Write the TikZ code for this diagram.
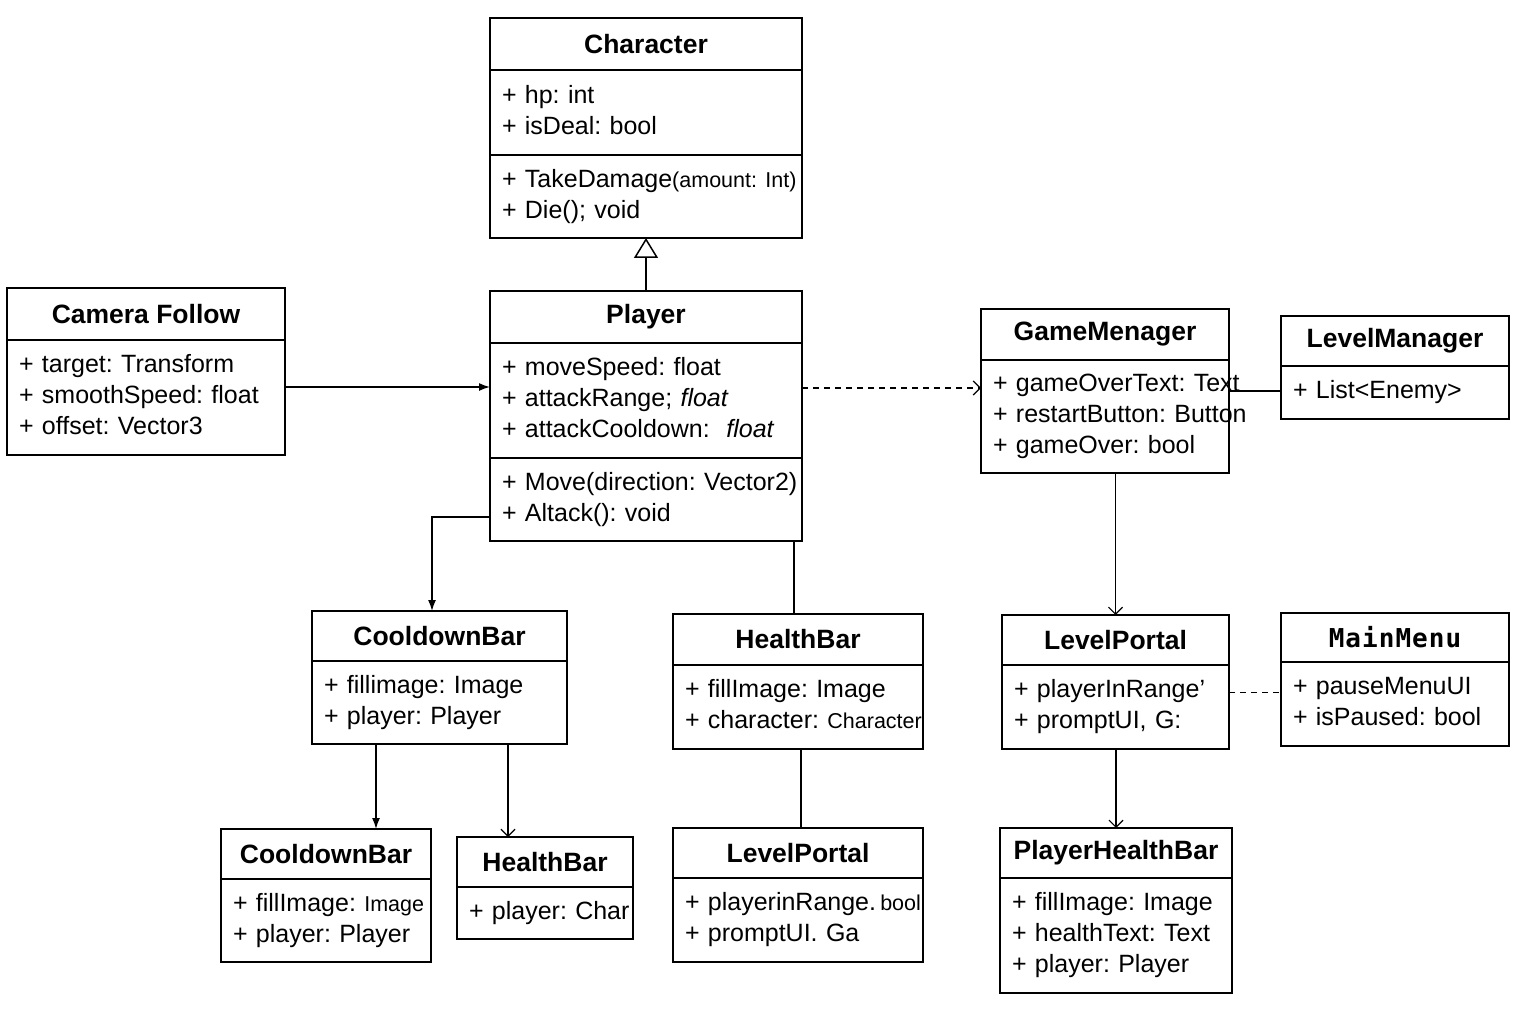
\documentclass[tikz,border=0pt]{standalone}
\usepackage{fontspec}
\setmainfont{Liberation Sans}
\newfontfamily\monotitle[LetterSpace=4]{DejaVu Sans Mono}
\newcommand\members[1]{\begin{tabular}{@{}l@{}}#1\end{tabular}}
\newcommand\smtxt[1]{{\fontsize{21.5}{31}\selectfont #1}}
\frenchspacing
\usetikzlibrary{arrows.meta,positioning}

\begin{document}
\begin{tikzpicture}[
  x=1pt, y=-1pt,
  cls/.style={draw, line width=1.6pt, outer sep=0pt, anchor=north, minimum width=#1, font=\bfseries\fontsize{26.5}{32}\selectfont},
  comp/.style={draw, line width=1.6pt, outer sep=0pt, anchor=north, minimum width=#1, text width=#1-24pt, inner xsep=12pt, inner ysep=0pt, align=left, font=\fontsize{25}{31}\selectfont},
  assoc/.style={-{Latex[length=11pt,width=8pt]}, line width=1.5pt},
  uses/.style={-{Straight Barb[length=7pt,width=14pt]}, line width=1.2pt},
  dep/.style={dash pattern=on 6pt off 5pt, line width=1pt},
  plain/.style={line width=1.5pt},
  inherit/.style={-{Triangle[open,length=20pt,width=24pt,fill=white]}, line width=1.5pt},
  node distance=0pt
]
\useasboundingbox (0,0) rectangle (1536,1024);

% base class and player
\node[cls=312pt, minimum height=52pt] (chr) at (646,18) {Character};
\node[comp=312pt, minimum height=85pt, below=of chr] (chrA) {\members{+ hp: int\\+ isDeal: bool}};
\node[comp=312pt, minimum height=83pt, below=of chrA] (chrM) {\members{+ TakeDamage\smtxt{(amount: Int)}\\+ Die(); void}};

\node[cls=312pt, minimum height=52pt] (ply) at (646,291) {Player};
\node[comp=312pt, minimum height=115pt, below=of ply] (plyA) {\members{+ moveSpeed: float\\+ attackRange; \textit{float}\\+ attackCooldown:\ \ \textit{float}}};
\node[comp=312pt, minimum height=83pt, below=of plyA] (plyM) {\members{+ Move(direction: Vector2)\\+ Altack(): void}};

% left and right classes
\node[cls=278pt, minimum height=52pt] (cam) at (146,288) {Camera Follow};
\node[comp=278pt, minimum height=115pt, below=of cam] (camA) {\members{+ target: Transform\\+ smoothSpeed: float\\+ offset: Vector3}};

\node[cls=248pt, minimum height=51pt] (gm) at (1105,309) {GameMenager};
\node[comp=248pt, minimum height=113pt, below=of gm] (gmA) {\members{+ gameOverText: Text\\+ restartButton: Button\\+ gameOver: bool}};

\node[cls=228pt, minimum height=50pt] (lm) at (1395,316) {LevelManager};
\node[comp=228pt, minimum height=53pt, below=of lm] (lmA) {\members{+ List<Enemy>}};

% middle row
\node[cls=255pt, minimum height=50pt] (cdb) at (439.5,611) {CooldownBar};
\node[comp=255pt, minimum height=83pt, below=of cdb] (cdbA) {\members{+ fillimage: Image\\+ player: Player}};

\node[cls=250pt, minimum height=51pt] (hb) at (798,614) {HealthBar};
\node[comp=250pt, minimum height=84pt, below=of hb] (hbA) {\members{+ fillImage: Image\\+ character: \smtxt{Character}}};

\node[cls=227pt, minimum height=50pt] (lp) at (1115.5,615) {LevelPortal};
\node[comp=227pt, minimum height=84pt, below=of lp] (lpA) {\members{+ playerInRange'\\+ promptUI, G:}};

\node[cls=228pt, minimum height=49pt, font=\monotitle\bfseries\fontsize{26}{32}\selectfont] (mm) at (1395,613) {MainMenu};
\node[comp=228pt, minimum height=84pt, below=of mm] (mmA) {\members{+ pauseMenuUI\\+ isPaused: bool}};

% bottom row
\node[cls=210pt, minimum height=50pt] (cdb2) at (326,829) {CooldownBar};
\node[comp=210pt, minimum height=83pt, below=of cdb2] (cdb2A) {\members{+ fillImage: \smtxt{Image}\\+ player: Player}};

\node[cls=176pt, minimum height=50pt] (hb2) at (545,837) {HealthBar};
\node[comp=176pt, minimum height=52pt, below=of hb2] (hb2A) {\members{+ player: Char}};

\node[cls=250pt, minimum height=50pt] (lp2) at (798,828) {LevelPortal};
\node[comp=250pt, minimum height=84pt, below=of lp2] (lp2A) {\members{+ playerinRange.\,\smtxt{bool}\\+ promptUI. Ga}};

\node[cls=232pt, minimum height=50pt] (phb) at (1116,828) {PlayerHealthBar};
\node[comp=232pt, minimum height=115pt, below=of phb] (phbA) {\members{+ fillImage: Image\\+ healthText: Text\\+ player: Player}};

% connectors
\draw[inherit] (ply.north) -- (chrM.south);
\draw[assoc] (camA.east |- 0,387) -- (plyA.west |- 0,387);
\draw[dep, uses] (plyA.east |- 0,388) -- (gmA.west |- 0,388);
\draw[assoc] (plyM.west |- 0,517) -| (cdb.north -| 432,0);
\draw[plain] (plyM.south -| 794,0) -- (hb.north -| 794,0);
\draw[plain] (gmA.east |- 0,391) -- (lmA.west |- 0,391);
\draw[dep] (lpA.east |- 0,692) -- (mmA.west |- 0,692);
\foreach \a/\b in {lp/gmA, phb/lpA}
  \draw[uses] (\a.north |- \b.south) -- (\a.north);
\draw[assoc] (cdbA.south -| 376,0) -- (cdb2.north -| 376,0);
\draw[uses] (cdbA.south -| 508,0) -- (hb2.north -| 508,0);
\draw[plain] (hbA.south -| 801,0) -- (lp2.north -| 801,0);

\end{tikzpicture}
\end{document}
